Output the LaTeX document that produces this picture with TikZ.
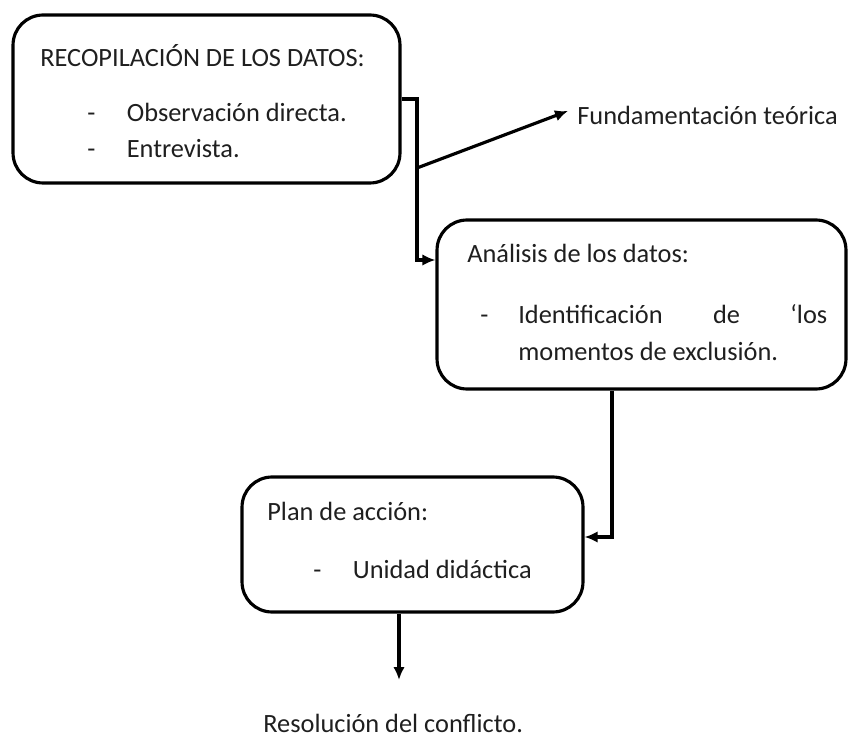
\documentclass[tikz,border=0pt]{standalone}
\usepackage{fontspec}
\setmainfont{Carlito}
\usepackage{tikz}
\usetikzlibrary{positioning,arrows.meta}
\definecolor{inkcolor}{gray}{0.12}
\newcommand{\dashItem}[1]{\makebox[0.79cm][l]{-}#1}

\begin{document}
\begin{tikzpicture}[
			x=0.02cm, y=-0.02cm,
			stagebox/.style={rectangle, rounded corners=0.6cm, draw=black, line width=1.8pt, fill=white},
			label/.style={inner sep=0pt, anchor=base west, text=inkcolor, font=\fontsize{15}{22}\selectfont},
			conn/.style={line width=1.8pt, -{Latex[length=2.6mm,width=2.3mm]}},
		]

		\useasboundingbox (0,0) rectangle (848,736);

		% boxes
		\node[stagebox, minimum width=7.74cm, minimum height=3.36cm] (recop)    at (206.5,99)  {};
		\node[stagebox, minimum width=8.18cm, minimum height=3.38cm] (analisis) at (641.5,304.5) {};
		\node[stagebox, minimum width=6.82cm, minimum height=2.70cm] (plan)     at (412.5,544.5) {};

		% texts
		\node[label] (recopT)    at (40,67)   {RECOPILACIÓN DE LOS DATOS:};
		\node[label] (recopA)    at (87,122)  {\dashItem{Observación directa.}};
		\node[label] (recopB)    at (87,158)  {\dashItem{Entrevista.}};
		\node[label] (analisisT) at (467,263) {Análisis de los datos:};
		\node[label] (analisisA) at (480,323) {\makebox[0.76cm][l]{-}\parbox[t]{6.18cm}{Identificación\hfill de\hfill ‘los\\[-0.8pt]momentos de exclusión.}};
		\node[label] (planT)     at (267,520) {Plan de acción:};
		\node[label] (planA)     at (313,578) {\dashItem{Unidad didáctica}};
		\node[label] (fund)      at (577,125) {Fundamentación teórica};
		\node[label] (resol)     at (263,732) {Resolución del conflicto.};

		% bends
		\coordinate (split)  at (417,260);
		\coordinate (branch) at (417,168);
		\coordinate (drop)   at (612,537);
		\coordinate (tip)    at (399,680);

		\draw[conn] (recop.east) -| (split) -- (split -| analisis.west);
		\draw[conn] (branch) -- ([xshift=-0.18cm,yshift=0.1cm]fund.west);
		\draw[conn] (analisis.south -| drop) -- (drop) -- (drop -| plan.east);
		\draw[conn] (plan.south -| tip) -- (tip);

		\end{tikzpicture}
\end{document}
